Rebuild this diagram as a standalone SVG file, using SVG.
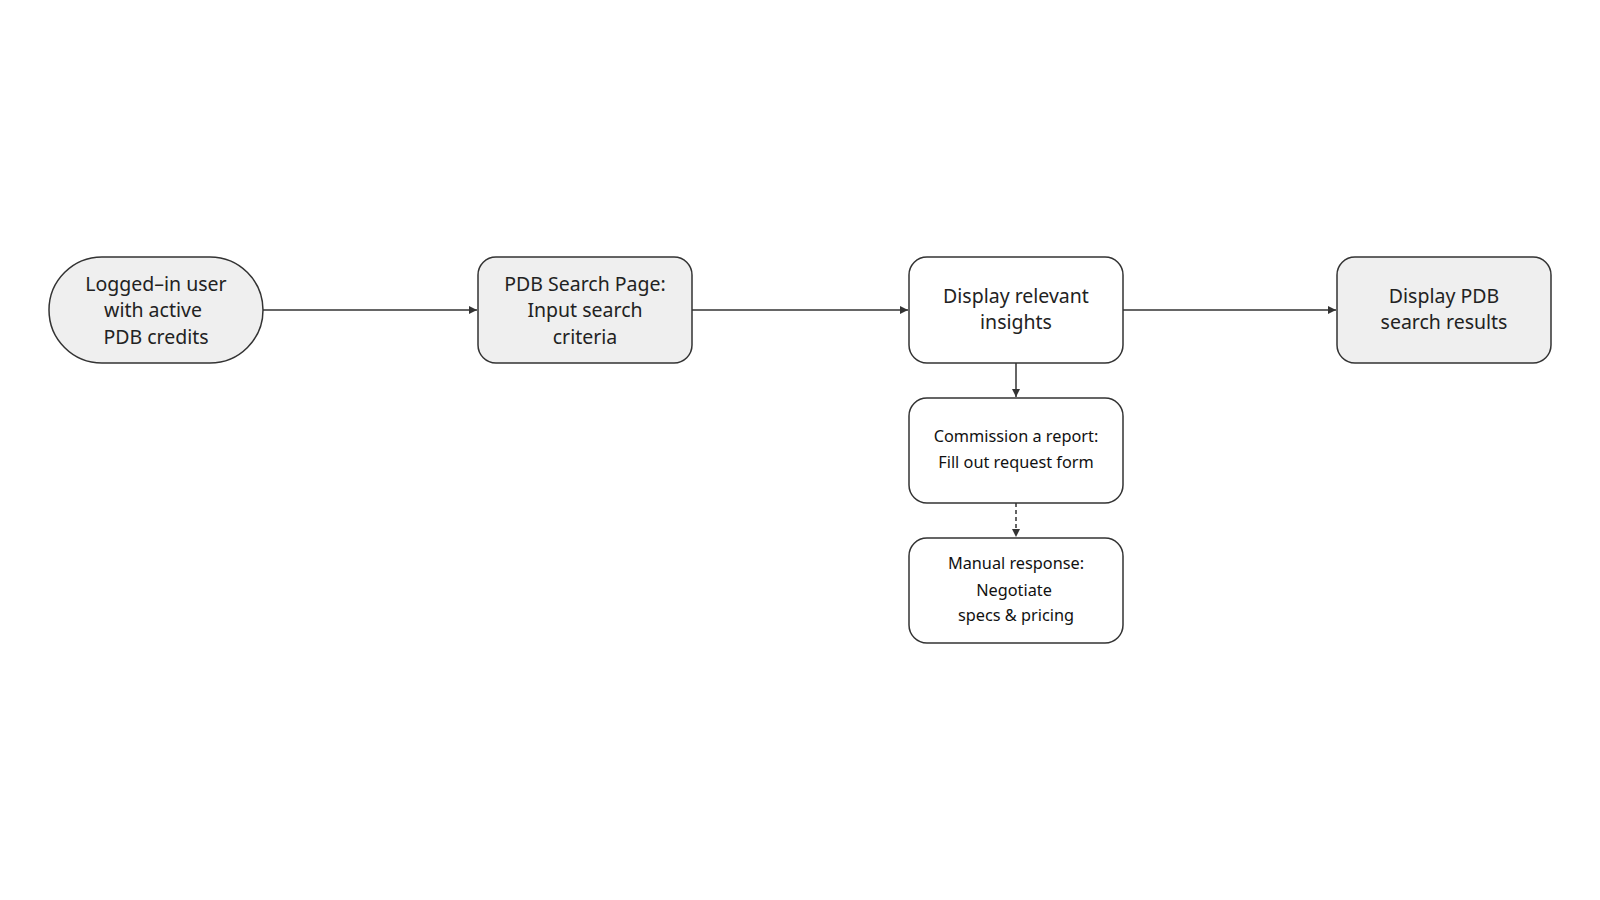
<svg xmlns="http://www.w3.org/2000/svg" width="1600" height="900" viewBox="0 0 1600 900">
<style>
.n{stroke:#333;stroke-width:1.5}
.g{fill:#efefef}
.w{fill:#fff}
.t{font-family:"Noto Sans","Liberation Sans",sans-serif;font-size:19.5px;fill:#222;text-anchor:middle}
.s{font-family:"Noto Sans","Liberation Sans",sans-serif;font-size:16.3px;fill:#111;text-anchor:middle}
.c{stroke:#333;stroke-width:1.5;fill:none}
</style>
<defs>
<marker id="a" viewBox="0 0 10 10" refX="10" refY="5" markerWidth="8" markerHeight="8" markerUnits="userSpaceOnUse" orient="auto">
<path d="M0,0 L10,5 L0,10 z" fill="#333"/>
</marker>
</defs>
<rect width="1600" height="900" fill="#fff"/>
<g id="connectors">
<line class="c" x1="263" y1="310" x2="477" y2="310" marker-end="url(#a)"/>
<line class="c" x1="692" y1="310" x2="908" y2="310" marker-end="url(#a)"/>
<line class="c" x1="1123" y1="310" x2="1336" y2="310" marker-end="url(#a)"/>
<line class="c" x1="1016" y1="363" x2="1016" y2="397" marker-end="url(#a)"/>
<line class="c" x1="1016" y1="503" x2="1016" y2="537" stroke-dasharray="4,3" marker-end="url(#a)"/>
</g>
<g id="n1">
<rect class="n g" x="49" y="257" width="214" height="106" rx="53" ry="53"/>
<text class="t" x="156" y="291">Logged–in user</text>
<text class="t" x="153" y="317">with active</text>
<text class="t" x="156" y="344">PDB credits</text>
</g>
<g id="n2">
<rect class="n g" x="478" y="257" width="214" height="106" rx="18"/>
<text class="t" x="585" y="291">PDB Search Page:</text>
<text class="t" x="585" y="317">Input search</text>
<text class="t" x="585" y="344">criteria</text>
</g>
<g id="n3">
<rect class="n w" x="909" y="257" width="214" height="106" rx="18"/>
<text class="t" x="1016" y="303">Display relevant</text>
<text class="t" x="1016" y="329">insights</text>
</g>
<g id="n4">
<rect class="n g" x="1337" y="257" width="214" height="106" rx="18"/>
<text class="t" x="1444" y="303">Display PDB</text>
<text class="t" x="1444" y="329">search results</text>
</g>
<g id="n5">
<rect class="n w" x="909" y="398" width="214" height="105" rx="18"/>
<text class="s" x="1016" y="442">Commission a report:</text>
<text class="s" x="1016" y="468">Fill out request form</text>
</g>
<g id="n6">
<rect class="n w" x="909" y="538" width="214" height="105" rx="18"/>
<text class="s" x="1016" y="569">Manual response:</text>
<text class="s" x="1014" y="596">Negotiate</text>
<text class="s" x="1016" y="621">specs &amp; pricing</text>
</g>
</svg>
